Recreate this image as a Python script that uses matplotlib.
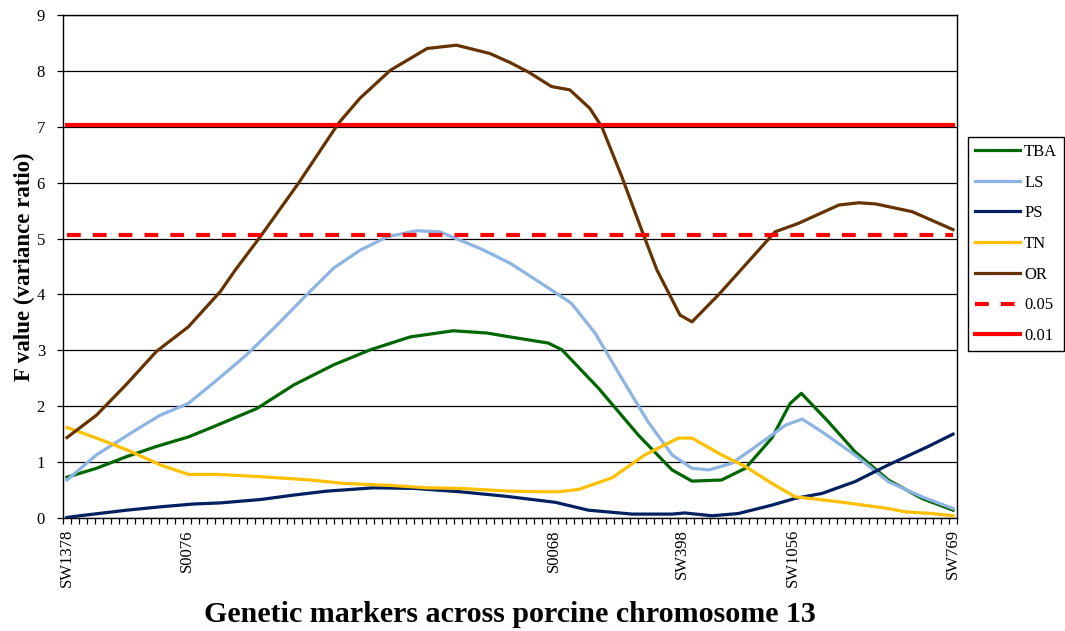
import matplotlib
matplotlib.use("Agg")
import matplotlib.pyplot as plt
import numpy as np

plt.rcParams["font.family"] = ["Liberation Serif", "DejaVu Serif"]

# map positions (category index along chromosome 13) and F values per trait
N_POS = 112
marker_pos = [0, 15, 61, 77, 91, 111]
marker_names = ["SW1378", "S0076", "S0068", "SW398", "SW1056", "SW769"]

tba_x = [0, 3.7, 7.5, 11.2, 15.2, 18.3, 23.8, 28.4, 33.4, 38.0, 43.0, 48.4, 52.6, 55.5,
         60.3, 62.0, 66.6, 71.6, 75.8, 78.3, 82.0, 85.0, 88.3, 90.6, 92.0, 95.4, 98.7,
         102.9, 107.1, 111]
tba_y = [0.73, 0.89, 1.10, 1.28, 1.45, 1.63, 1.96, 2.38, 2.74, 3.01, 3.24, 3.35, 3.31, 3.24,
         3.13, 3.01, 2.32, 1.48, 0.86, 0.66, 0.68, 0.89, 1.43, 2.05, 2.23, 1.72, 1.19,
         0.68, 0.35, 0.14]

ls_x = [0, 3.7, 8.9, 11.7, 15.2, 18.8, 22.5, 26.3, 30.0, 33.4, 36.7, 40.1, 43.8, 46.7,
        51.8, 55.5, 60.7, 63.2, 66.2, 69.5, 72.8, 75.8, 78.3, 80.4, 83.3, 86.6, 90.0,
        92.1, 94.6, 98.7, 102.9, 107.1, 111]
ls_y = [0.68, 1.13, 1.60, 1.84, 2.05, 2.47, 2.92, 3.45, 3.99, 4.47, 4.79, 5.03, 5.14, 5.12,
        4.82, 4.56, 4.08, 3.84, 3.30, 2.50, 1.72, 1.13, 0.89, 0.86, 0.98, 1.31, 1.66,
        1.77, 1.54, 1.13, 0.65, 0.38, 0.17]

ps_x = [0, 1.6, 7.5, 11.7, 15.8, 19.2, 24.2, 28.4, 32.5, 38.4, 43.4, 49.2, 54.9, 61.2,
        65.3, 70.8, 75.8, 77.4, 80.8, 84.1, 88.3, 91.2, 94.6, 98.7, 102.9, 107.9, 111]
ps_y = [0.01, 0.04, 0.14, 0.20, 0.25, 0.27, 0.33, 0.41, 0.48, 0.54, 0.53, 0.47, 0.39, 0.28,
        0.14, 0.07, 0.07, 0.09, 0.04, 0.08, 0.23, 0.35, 0.44, 0.65, 0.95, 1.28, 1.50]

tn_x = [0, 3.7, 7.5, 11.7, 15.2, 18.8, 24.2, 30.5, 34.6, 40.9, 45.1, 49.2, 55.5, 59.1,
        61.6, 64.1, 68.3, 72.4, 76.6, 78.3, 82.0, 85.0, 88.3, 91.2, 96.7, 102.9, 105.0,
        108.4, 111]
tn_y = [1.62, 1.43, 1.22, 0.95, 0.78, 0.78, 0.74, 0.68, 0.62, 0.58, 0.54, 0.53, 0.48, 0.47,
        0.47, 0.51, 0.72, 1.13, 1.43, 1.43, 1.13, 0.92, 0.62, 0.38, 0.29, 0.17, 0.11,
        0.08, 0.04]

or_x = [0, 3.7, 7.5, 11.2, 15.2, 19.2, 21.1, 24.2, 29.0, 34.0, 36.7, 40.5, 45.1, 48.8,
        53.0, 55.5, 57.8, 60.7, 63.0, 65.5, 67.0, 69.5, 72.0, 73.9, 76.8, 78.3, 81.6,
        85.0, 88.7, 91.6, 96.7, 99.2, 101.3, 105.9, 111]
or_y = [1.44, 1.84, 2.40, 2.98, 3.42, 4.05, 4.44, 5.03, 5.99, 7.06, 7.51, 8.01, 8.40, 8.46,
        8.31, 8.15, 7.98, 7.72, 7.66, 7.33, 7.00, 6.11, 5.15, 4.44, 3.63, 3.51, 3.99,
        4.53, 5.12, 5.27, 5.60, 5.64, 5.62, 5.48, 5.16]

thresh_05 = 5.06
thresh_01 = 7.04

traits = [
    ("TBA", tba_x, tba_y, "#006600"),
    ("LS", ls_x, ls_y, "#8DB4E2"),
    ("PS", ps_x, ps_y, "#002060"),
    ("TN", tn_x, tn_y, "#FFC000"),
    ("OR", or_x, or_y, "#663300"),
]

fig = plt.figure(figsize=(10.65, 6.31), dpi=100)
ax = fig.add_axes([63 / 1065, 113 / 631, 894 / 1065, 503 / 631])

for name, xs, ys, col in traits:
    ax.plot(xs, ys, color=col, lw=2.3, label=name, solid_joinstyle="round", zorder=3)

pos = np.arange(N_POS)
ax.plot(pos, np.full(N_POS, thresh_05), color="#FF0000", lw=3, ls=(0, (3.3, 2.9)),
        dash_capstyle="butt", label="0.05", zorder=3)
ax.plot(pos, np.full(N_POS, thresh_01), color="#FF0000", lw=3, label="0.01", zorder=3)

# axes, grid and ticks
ax.set_xlim(-0.5, N_POS - 0.5)
ax.set_ylim(0, 9)
ax.set_yticks(range(10))
ax.yaxis.grid(True, color="black", lw=0.9)
ax.set_axisbelow(True)
for s in ax.spines.values():
    s.set_color("black")
    s.set_linewidth(1.0)

ax.set_xticks(np.arange(-0.5, N_POS, 1.0))
ax.set_xticklabels([])
ax.set_xticks(marker_pos, minor=True)
ax.set_xticklabels(marker_names, minor=True, rotation=90, fontsize=12)
ax.tick_params(axis="x", which="major", direction="out", length=4, width=0.9)
ax.tick_params(axis="x", which="minor", length=0, pad=8)
ax.tick_params(axis="y", direction="out", length=4, width=0.9, labelsize=12, pad=9)

ax.set_ylabel("F value (variance ratio)", fontsize=16.5, fontweight="bold", labelpad=1)
ax.set_xlabel("Genetic markers across porcine chromosome 13", fontsize=21.6,
              fontweight="bold", labelpad=10)

leg = ax.legend(loc="center left", bbox_to_anchor=(968 / 1065, 1 - 244 / 631),
                bbox_transform=fig.transFigure, fontsize=12, handlelength=2.7,
                handletextpad=0.25, labelspacing=0.88, borderpad=0.42, fancybox=False,
                framealpha=1, edgecolor="black", borderaxespad=0)
leg.get_frame().set_linewidth(1.0)

fig.savefig("out.png", dpi=100, facecolor="white")
